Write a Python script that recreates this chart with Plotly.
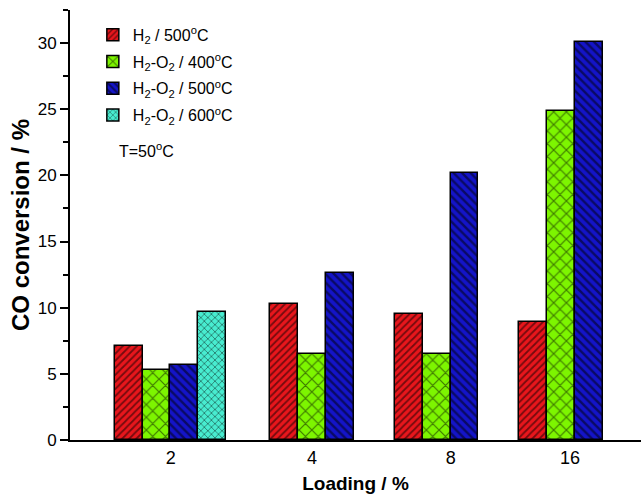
import plotly.graph_objects as go

# ---- data ----
categories = ["2", "4", "8", "16"]
series_names = [
    "H<sub>2</sub> / 500<sup>o</sup>C",
    "H<sub>2</sub>-O<sub>2</sub> / 400<sup>o</sup>C",
    "H<sub>2</sub>-O<sub>2</sub> / 500<sup>o</sup>C",
    "H<sub>2</sub>-O<sub>2</sub> / 600<sup>o</sup>C",
]
h2_500 = [7.1, 10.3, 9.5, 8.95]
h2o2_400 = [5.3, 6.5, 6.5, 24.9]
h2o2_500 = [5.7, 12.6, 20.2, 30.05]
h2o2_600 = [9.65, None, None, None]
y_ticks = [0, 5, 10, 15, 20, 25, 30]

series = [h2_500, h2o2_400, h2o2_500, h2o2_600]

# ---- layout / style ----
GROUP_POS = [0.863, 2.0, 3.0, 4.0]
LABEL_POS = [0.865, 2.0, 3.114, 4.072]
W = 0.224
colors = ["#e8161c", "#7df500", "#1414c8", "#48ecd0"]
patterns = [
    dict(shape="/", size=5, solidity=0.35, fgcolor="black"),
    dict(shape="x", size=9, solidity=0.25, fgcolor="black"),
    dict(shape="\\", size=6, solidity=0.4, fgcolor="black"),
    dict(shape="x", size=5, solidity=0.3, fgcolor="black"),
]

# compute bar positions within each group (only present series)
xs = [[] for _ in series]
ys = [[] for _ in series]
for g in range(len(categories)):
    present = [i for i, s in enumerate(series) if s[g] is not None]
    n = len(present)
    for k, i in enumerate(present):
        xs[i].append(GROUP_POS[g] + (k - (n - 1) / 2) * W)
        ys[i].append(series[i][g])

fig = go.Figure()
for i, name in enumerate(series_names):
    pat = dict(patterns[i])
    pat["bgcolor"] = colors[i]
    fig.add_trace(go.Bar(
        x=xs[i], y=ys[i], width=W, name=name,
        marker=dict(color=colors[i], pattern=pat,
                    line=dict(color="black", width=1.5)),
        legendgroup=str(i),
    ))

FONT = "Liberation Sans, Arial, sans-serif"
fig.update_layout(
    width=641, height=494,
    margin=dict(l=70, r=0, t=10, b=54),
    plot_bgcolor="white", paper_bgcolor="white",
    barmode="overlay", bargap=0,
    font=dict(family=FONT, color="black"),
    showlegend=True,
    legend=dict(x=0.04, y=0.982, xanchor="left", yanchor="top",
                bgcolor="rgba(0,0,0,0)", font=dict(size=16),
                tracegroupgap=3),
    xaxis=dict(
        range=[0.056, 4.642], showline=True, linecolor="black", linewidth=2,
        tickmode="array", tickvals=LABEL_POS, ticktext=categories,
        ticks="", showgrid=False, zeroline=False,
        tickfont=dict(size=18),
        title=dict(text="<b>Loading / %</b>", font=dict(size=19), standoff=12),
    ),
    yaxis=dict(
        range=[0, 32.5], showline=True, linecolor="black", linewidth=2,
        tickmode="array", tickvals=y_ticks,
        ticks="outside", ticklen=8, tickwidth=2, tickcolor="black",
        minor=dict(dtick=2.5, tick0=0, ticks="outside", ticklen=5,
                   tickwidth=2, tickcolor="black", showgrid=False),
        showgrid=False, zeroline=False,
        tickfont=dict(size=17),
        title=dict(text="<b>CO conversion / %</b>", font=dict(size=24), standoff=1),
    ),
    annotations=[dict(
        text="T=50<sup>o</sup>C", x=0.082, y=0.674, xref="paper", yref="paper",
        xanchor="left", yanchor="middle", showarrow=False, font=dict(size=16),
    )],
)

fig.write_html("out.html")
